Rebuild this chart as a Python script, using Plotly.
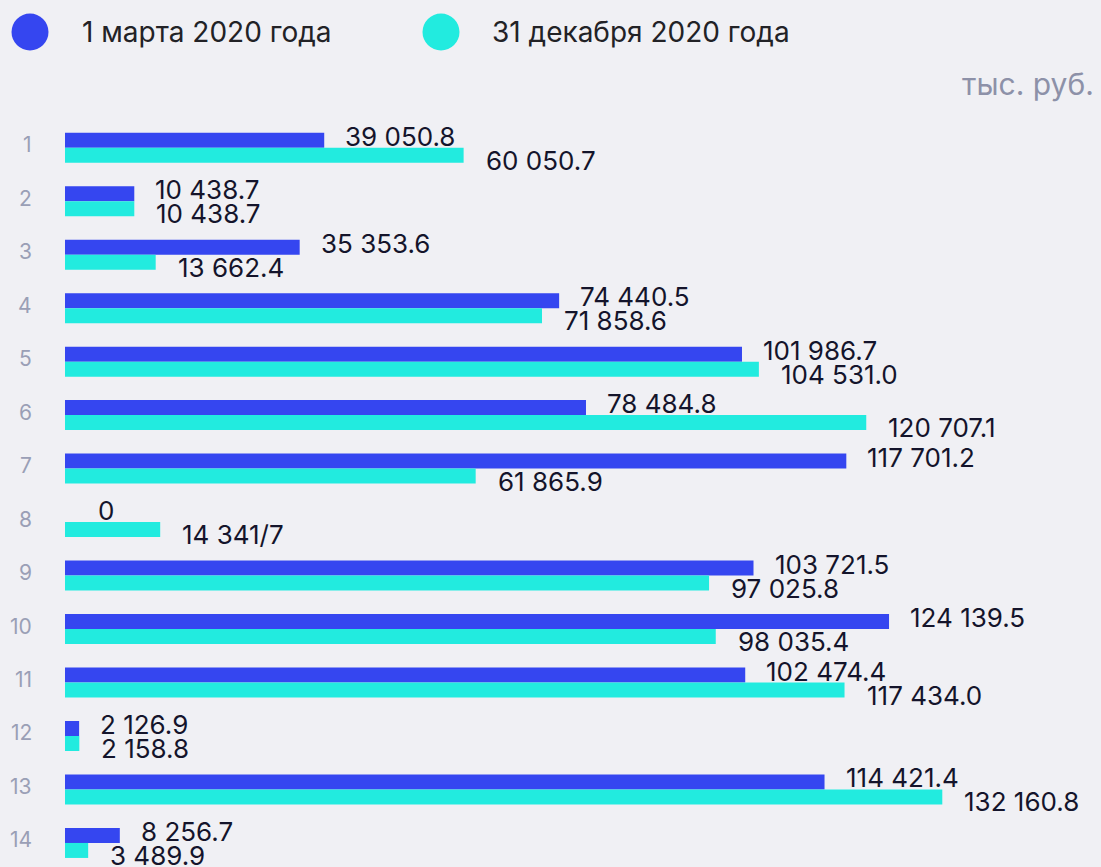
import plotly.graph_objects as go

categories = list(range(1, 15))
march_values = [39050.8, 10438.7, 35353.6, 74440.5, 101986.7, 78484.8, 117701.2, 0,
                103721.5, 124139.5, 102474.4, 2126.9, 114421.4, 8256.7]
dec_values = [60050.7, 10438.7, 13662.4, 71858.6, 104531.0, 120707.1, 61865.9, 14341.7,
              97025.8, 98035.4, 117434.0, 2158.8, 132160.8, 3489.9]
march_labels = ["39 050.8", "10 438.7", "35 353.6", "74 440.5", "101 986.7", "78 484.8",
                "117 701.2", "0", "103 721.5", "124 139.5", "102 474.4", "2 126.9",
                "114 421.4", "8 256.7"]
dec_labels = ["60 050.7", "10 438.7", "13 662.4", "71 858.6", "104 531.0", "120 707.1",
              "61 865.9", "14 341/7", "97 025.8", "98 035.4", "117 434.0", "2 158.8",
              "132 160.8", "3 489.9"]
series_names = ["1 марта 2020 года", "31 декабря 2020 года"]
unit_label = "тыс. руб."

BLUE = "#3546f0"
CYAN = "#22ebdf"
BG = "#f0f0f4"
FONT = "Inter"

W, H = 1101, 867
L, T = 65, 121
pw, ph = W - L, H - T


def px_to_paper(xp, yp):
    return (xp - L) / pw, 1 - (yp - T) / ph


fig = go.Figure()
fig.add_trace(go.Bar(y=categories, x=march_values, orientation="h", name=series_names[0],
                     marker=dict(color=BLUE, line=dict(width=0)), showlegend=False))
fig.add_trace(go.Bar(y=categories, x=dec_values, orientation="h", name=series_names[1],
                     marker=dict(color=CYAN, line=dict(width=0)), showlegend=False))

annotations = []
for c, v, t in zip(categories, march_values, march_labels):
    annotations.append(dict(x=v, y=c, xref="x", yref="y", text=t, showarrow=False,
                            xanchor="left", yanchor="middle", xshift=31 if v == 0 else 19,
                            yshift=11.5, font=dict(family=FONT, size=26, color="#14142b")))
for c, v, t in zip(categories, dec_values, dec_labels):
    annotations.append(dict(x=v, y=c, xref="x", yref="y", text=t, showarrow=False,
                            xanchor="left", yanchor="middle", xshift=20,
                            yshift=-12.5, font=dict(family=FONT, size=26, color="#14142b")))
# category labels, right-aligned left of the bars
for c in categories:
    annotations.append(dict(x=0, y=c, xref="paper", yref="y", text=str(c), showarrow=False,
                            xanchor="right", yanchor="middle", xshift=-31, yshift=3,
                            font=dict(family=FONT, size=21, color="#9a9fb6")))

lx1, ly1 = px_to_paper(80, 32)
lx2, ly2 = px_to_paper(490, 32)
ux, uy = px_to_paper(1096, 84)
annotations.append(dict(x=lx1, y=ly1, xref="paper", yref="paper", text=series_names[0],
                        showarrow=False, xanchor="left", yanchor="middle",
                        font=dict(family=FONT, size=28, color="#222226")))
annotations.append(dict(x=lx2, y=ly2, xref="paper", yref="paper", text=series_names[1],
                        showarrow=False, xanchor="left", yanchor="middle",
                        font=dict(family=FONT, size=28, color="#222226")))
annotations.append(dict(x=ux, y=uy, xref="paper", yref="paper", text=unit_label,
                        showarrow=False, xanchor="right", yanchor="middle",
                        font=dict(family=FONT, size=30, color="#8d91a8")))

shapes = []
for cx, col in [(30, BLUE), (441, CYAN)]:
    x0, y0 = px_to_paper(cx - 18.5, 32 - 18.5)
    x1, y1 = px_to_paper(cx + 18.5, 32 + 18.5)
    shapes.append(dict(type="circle", xref="paper", yref="paper", x0=x0, x1=x1,
                       y0=y1, y1=y0, fillcolor=col, line=dict(width=0)))

fig.update_layout(
    width=W, height=H,
    margin=dict(l=L, r=0, t=T, b=0, autoexpand=False),
    paper_bgcolor=BG, plot_bgcolor=BG,
    barmode="group", bargap=0.439, bargroupgap=0,
    xaxis=dict(range=[0, 156070], visible=False, fixedrange=True),
    yaxis=dict(range=[14.45, 0.5], showticklabels=False, ticks="",
               showgrid=False, zeroline=False, showline=False, fixedrange=True),
    annotations=annotations, shapes=shapes,
    font=dict(family=FONT),
)

fig.write_html("out.html", config={"displayModeBar": False},
               post_script="document.body.style.margin='0';document.body.style.background='%s';" % BG)
